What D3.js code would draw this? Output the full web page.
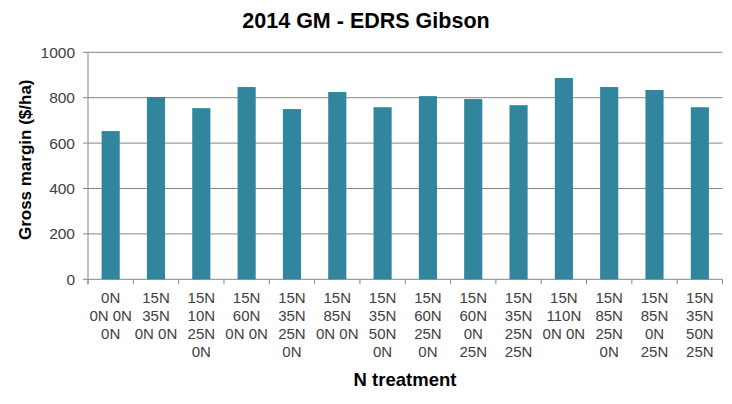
<!DOCTYPE html>
<html><head><meta charset="utf-8">
<script src="https://cdn.jsdelivr.net/npm/d3@7"></script>
<style>body{margin:0;background:#fff}svg{display:block;font-family:"Liberation Sans",Arial,sans-serif}</style>
</head><body><svg id="c" width="732" height="404"></svg>
<script>
const categories = [
  "0N\n0N 0N\n0N",
  "15N\n35N\n0N 0N",
  "15N\n10N\n25N\n0N",
  "15N\n60N\n0N 0N",
  "15N\n35N\n25N\n0N",
  "15N\n85N\n0N 0N",
  "15N\n35N\n50N\n0N",
  "15N\n60N\n25N\n0N",
  "15N\n60N\n0N\n25N",
  "15N\n35N\n25N\n25N",
  "15N\n110N\n0N 0N",
  "15N\n85N\n25N\n0N",
  "15N\n85N\n0N\n25N",
  "15N\n35N\n50N\n25N"
];
const values = [653, 803, 754, 847, 750, 825, 758, 807, 794, 767, 887, 847, 834, 758];
const yTicks = [0, 200, 400, 600, 800, 1000];

const svg = d3.select("#c");
const L = 88, R = 722.5, T = 52.3, B = 279.3;
const x = d3.scaleBand().domain(d3.range(categories.length)).range([L, R]).paddingInner(0.6).paddingOuter(0.3);
const xb = d3.scaleBand().domain(d3.range(categories.length)).range([L, R]);
const y = d3.scaleLinear().domain([0, 1000]).range([B, T]);
const grid = "#868686";

svg.append("g").selectAll("line").data(yTicks).join("line")
  .attr("x1", L - 5).attr("x2", R).attr("y1", d => y(d)).attr("y2", d => y(d))
  .attr("stroke", grid).attr("stroke-width", 1);
svg.append("line").attr("x1", L).attr("x2", L).attr("y1", T).attr("y2", B + 5).attr("stroke", grid);
svg.append("g").selectAll("line").data(d3.range(categories.length + 1)).join("line")
  .attr("x1", i => i < categories.length ? xb(i) : R).attr("x2", i => i < categories.length ? xb(i) : R)
  .attr("y1", B).attr("y2", B + 5).attr("stroke", grid);

svg.append("g").selectAll("rect").data(values).join("rect")
  .attr("x", (d, i) => x(i)).attr("width", x.bandwidth())
  .attr("y", d => y(d)).attr("height", d => B - y(d))
  .attr("fill", "#31859C");

svg.append("g").selectAll("text").data(yTicks).join("text")
  .attr("x", L - 13).attr("y", d => y(d)).attr("dy", "0.36em")
  .attr("text-anchor", "end").attr("font-size", 15.5).attr("fill", "#404040")
  .text(d => d);

const xl = svg.append("g").selectAll("text").data(categories).join("text")
  .attr("text-anchor", "middle").attr("font-size", 15).attr("fill", "#404040")
  .attr("transform", (d, i) => `translate(${xb(i) + xb.bandwidth() / 2},303)`);
xl.selectAll("tspan").data(d => d.split("\n")).join("tspan")
  .attr("x", 0).attr("y", (d, j) => j * 18).text(d => d);

svg.append("text").attr("x", 366).attr("y", 28).attr("text-anchor", "middle")
  .attr("font-size", 21.5).attr("font-weight", "bold").attr("fill", "#000").text("2014 GM - EDRS Gibson");
svg.append("text").attr("x", 405).attr("y", 386).attr("text-anchor", "middle")
  .attr("font-size", 18.5).attr("font-weight", "bold").attr("fill", "#000").text("N treatment");
svg.append("text").attr("transform", `translate(31,${(T + B) / 2 - 6}) rotate(-90)`).attr("text-anchor", "middle")
  .attr("font-size", 17).attr("font-weight", "bold").attr("fill", "#000").text("Gross margin ($/ha)");
</script></body></html>
